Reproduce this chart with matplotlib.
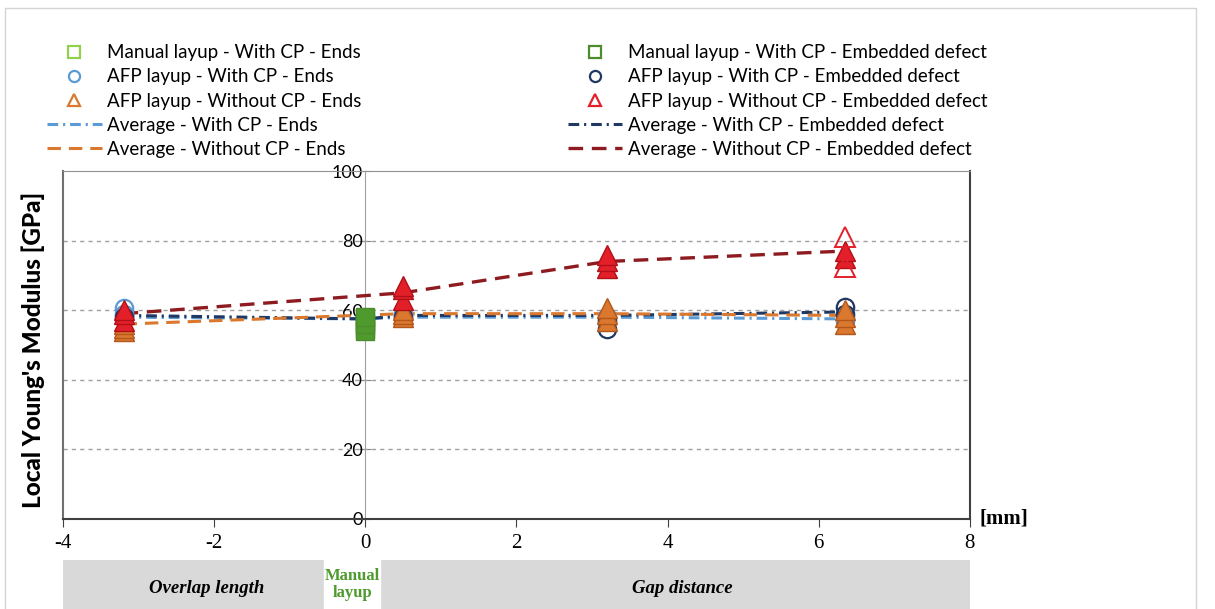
import matplotlib.pyplot as plt
from matplotlib.lines import Line2D
from matplotlib.patches import Rectangle

# ---- data ----
# averages, x = overlap(-)/gap(+) size in mm
avg_cp_x = [-3.2, 0, 0.5, 3.2, 6.35]
avg_cp_ends = [58, 57.5, 58, 58, 57.5]
avg_cp_emb = [58.5, 57.5, 58.5, 58.5, 59.5]
avg_nocp_x = [-3.2, 0.5, 3.2, 6.35]
avg_nocp_ends = [56, 59, 59, 58.5]
avg_nocp_emb = [59, 65, 74, 77]

# individual specimens
man_ends_x = [0, 0]
man_ends_y = [57, 55]
man_emb_x = [0, 0, 0]
man_emb_y = [54, 56, 58]
afp_cp_ends_x = [-3.2, -3.2, 0.5, 0.5, 3.2, 6.35, 6.35]
afp_cp_ends_y = [60.5, 59, 58, 59, 58, 57, 58]
afp_nocp_ends_x = [-3.2, -3.2, -3.2, 0.5, 0.5, 0.5, 3.2, 3.2, 3.2, 6.35, 6.35, 6.35]
afp_nocp_ends_y = [54, 55, 56, 58, 59, 60, 57, 59, 60.5, 56, 58, 60]
afp_cp_emb_x = [-3.2, 0.5, 3.2, 3.2, 6.35, 6.35]
afp_cp_emb_y = [58, 58, 54.5, 57, 61, 59]
afp_nocp_emb_x = [-3.2, -3.2, -3.2, 0.5, 0.5, 0.5, 3.2, 3.2, 3.2, 6.35, 6.35]
afp_nocp_emb_y = [57, 59, 60, 63, 66, 67, 72, 74, 76, 75, 77]
afp_nocp_emb_open_x = [6.35, 6.35]
afp_nocp_emb_open_y = [72.5, 81]

xticks = [-4, -2, 0, 2, 4, 6, 8]
yticks = [0, 20, 40, 60, 80, 100]

c_lgreen = '#92D050'
c_dgreen = '#4E8B2E'
c_lblue = '#5B9BD5'
c_navy = '#203864'
c_orange = '#D9782E'
c_red = '#E3202A'
c_dred = '#8E1B1F'

sans = 'Lato'
serif = 'Liberation Serif'

fig = plt.figure(figsize=(12.15, 6.09), dpi=100)
fig.patches.append(Rectangle((0.004, -0.02), 0.98, 1.007, transform=fig.transFigure,
                             fill=False, ec='#d4d4d4', lw=1))

ax = fig.add_axes([0.0519, 0.1478, 0.7464, 0.5714])
ax.set_xlim(-4, 8)
ax.set_ylim(0, 100)

# average lines
ax.plot(avg_cp_x, avg_cp_ends, color=c_lblue, lw=2.2, dashes=(3.5, 1.6, 0.7, 1.6), zorder=3)
ax.plot(avg_cp_x, avg_cp_emb, color=c_navy, lw=2.2, dashes=(3.5, 1.6, 0.7, 1.6), zorder=3)
ax.plot(avg_nocp_x, avg_nocp_ends, color=c_orange, lw=2.2, dashes=(4.4, 2.6), zorder=3)
ax.plot(avg_nocp_x, avg_nocp_emb, color=c_dred, lw=2.4, dashes=(4.4, 2.6), zorder=3)

# specimens
ms = 12.5
ax.plot(man_ends_x, man_ends_y, 's', ms=ms, mfc=c_lgreen, mec=c_dgreen, zorder=4)
ax.plot(man_emb_x, man_emb_y, 's', ms=ms, mfc='#4F9A2C', mec=c_dgreen, zorder=4)
ax.plot(afp_cp_ends_x, afp_cp_ends_y, 'o', ms=ms, mfc='none', mec=c_lblue, mew=1.6, zorder=4)
ax.plot(afp_cp_emb_x, afp_cp_emb_y, 'o', ms=ms, mfc='none', mec=c_navy, mew=1.6, zorder=4)
ax.plot(afp_nocp_ends_x, afp_nocp_ends_y, '^', ms=ms + 1.5, mfc=c_orange, mec='#B5561A', zorder=5)
ax.plot(afp_nocp_emb_x, afp_nocp_emb_y, '^', ms=ms + 1.5, mfc=c_red, mec='#B01018', zorder=5)
ax.plot(afp_nocp_emb_open_x, afp_nocp_emb_open_y, '^', ms=ms + 1.5, mfc='none', mec=c_red,
        mew=1.4, zorder=5)

# frame / grid
for y in yticks[1:-1]:
    ax.axhline(y, color='#a0a0a0', lw=1, ls=(0, (3, 3)), zorder=1)
ax.spines['left'].set_color('#707070')
ax.spines['right'].set_color('#404040')
ax.spines['top'].set_color('#909090')
ax.spines['bottom'].set_color('#404040')
ax.spines['bottom'].set_linewidth(1.5)
ax.spines['right'].set_linewidth(1.5)
ax.spines['left'].set_linewidth(1.5)

ax.set_yticks([])
ax.set_xticks(xticks)
ax.set_xticklabels([str(t) for t in xticks], fontfamily=serif, fontsize=15)
ax.tick_params(axis='x', direction='out', length=6, color='#404040', pad=5)

# y axis drawn at x = 0
yax = ax.secondary_yaxis(4 / 12)
yax.set_yticks(yticks)
yax.set_yticklabels([str(t) for t in yticks], fontfamily=sans, fontsize=13)
yax.spines['left'].set_color('#a0a0a0')
yax.tick_params(direction='inout', length=8, color='#808080', pad=-2)

fig.text(0.027, 0.425, "Local Young's Modulus [GPa]", rotation=90, ha='center', va='center',
         fontfamily=sans, fontweight='black', fontsize=17.5)
fig.text(0.806, 0.1478, '[mm]', ha='left', va='center', fontfamily=serif,
         fontweight='bold', fontsize=15)

# legend
handles = [
    Line2D([], [], ls='none', marker='s', ms=8, mfc='none', mec=c_lgreen, mew=1.6),
    Line2D([], [], ls='none', marker='o', ms=8, mfc='none', mec=c_lblue, mew=1.6),
    Line2D([], [], ls='none', marker='^', ms=8, mfc='none', mec=c_orange, mew=1.6),
    Line2D([], [], color=c_lblue, lw=2.2, dashes=(3.5, 1.6, 0.7, 1.6)),
    Line2D([], [], color=c_orange, lw=2.2, dashes=(4.4, 2.6)),
    Line2D([], [], ls='none', marker='s', ms=8, mfc='none', mec=c_dgreen, mew=1.6),
    Line2D([], [], ls='none', marker='o', ms=8, mfc='none', mec=c_navy, mew=1.6),
    Line2D([], [], ls='none', marker='^', ms=8, mfc='none', mec=c_red, mew=1.6),
    Line2D([], [], color=c_navy, lw=2.2, dashes=(3.5, 1.6, 0.7, 1.6)),
    Line2D([], [], color=c_dred, lw=2.4, dashes=(4.4, 2.6)),
]
labels = [
    'Manual layup - With CP - Ends',
    'AFP layup - With CP - Ends',
    'AFP layup - Without CP - Ends',
    'Average - With CP - Ends',
    'Average - Without CP - Ends',
    'Manual layup - With CP - Embedded defect',
    'AFP layup - With CP - Embedded defect',
    'AFP layup - Without CP - Embedded defect',
    'Average - With CP - Embedded defect',
    'Average - Without CP - Embedded defect',
]
fig.legend(handles, labels, ncol=2, loc='upper left', bbox_to_anchor=(0.025, 0.955),
           frameon=False, prop={'family': sans, 'size': 13.5}, handlelength=2.9,
           handletextpad=0.3, labelspacing=0.38, columnspacing=11.0)

# category band under the x axis
band = fig.add_axes([0.0519, 0.0, 0.7464, 0.08])
band.set_xlim(-4, 8)
band.set_ylim(0, 1)
band.set_facecolor('#d9d9d9')
band.axvspan(-0.55, 0.2, color='white')
for s in band.spines.values():
    s.set_visible(False)
band.set_xticks([])
band.set_yticks([])
band.text(-2.1, 0.42, 'Overlap length', ha='center', va='center', fontfamily=serif,
          fontstyle='italic', fontweight='bold', fontsize=13.5)
band.text(4.2, 0.42, 'Gap distance', ha='center', va='center', fontfamily=serif,
          fontstyle='italic', fontweight='bold', fontsize=13.5)
band.text(-0.17, 0.5, 'Manual\nlayup', ha='center', va='center', fontfamily=serif,
          fontweight='bold', fontsize=12, color='#4E9A2E', linespacing=1.05)

fig.savefig('out.png', dpi=100)
